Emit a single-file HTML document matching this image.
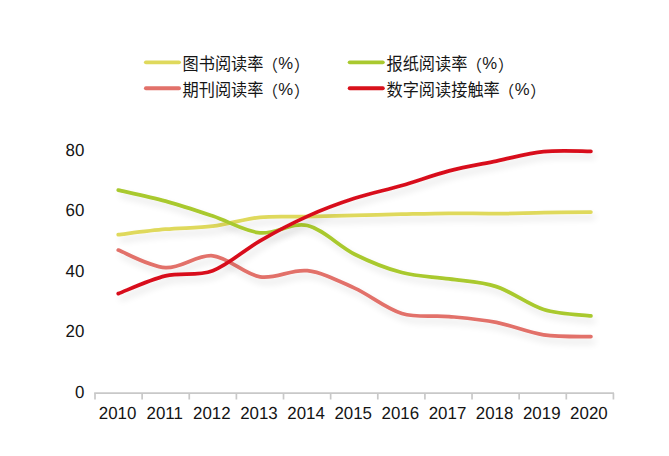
<!DOCTYPE html>
<html lang="zh"><head><meta charset="utf-8"><title>阅读率</title>
<style>
html,body{margin:0;padding:0;background:#fff;}
body{width:669px;height:456px;overflow:hidden;font-family:"Liberation Sans",sans-serif;}
svg{display:block;}
</style></head><body>
<svg width="669" height="456" viewBox="0 0 669 456">
<defs><filter id="sh" filterUnits="userSpaceOnUse" x="0" y="0" width="669" height="456">
<feGaussianBlur in="SourceAlpha" stdDeviation="3.6"/><feOffset dx="3" dy="5.2" result="b"/>
<feComponentTransfer><feFuncA type="linear" slope="0.115"/></feComponentTransfer>
<feMerge><feMergeNode/><feMergeNode in="SourceGraphic"/></feMerge></filter></defs>
<rect width="669" height="456" fill="#fff"/>
<g stroke="#c8c8c8" stroke-width="1.7" fill="none">
<path d="M94.15 393.20 H613.98"/>
<path d="M95.00 393.20 V399.50"/>
<path d="M142.13 393.20 V399.50"/>
<path d="M189.26 393.20 V399.50"/>
<path d="M236.39 393.20 V399.50"/>
<path d="M283.52 393.20 V399.50"/>
<path d="M330.65 393.20 V399.50"/>
<path d="M377.78 393.20 V399.50"/>
<path d="M424.91 393.20 V399.50"/>
<path d="M472.04 393.20 V399.50"/>
<path d="M519.17 393.20 V399.50"/>
<path d="M566.30 393.20 V399.50"/>
<path d="M613.43 393.20 V399.50"/>
</g>
<g font-family="'Liberation Sans', sans-serif" font-size="16.90" fill="#141414" text-rendering="geometricPrecision">
<text transform="translate(84.3 398.00) scale(1 1.03)" text-anchor="end">0</text>
<text transform="translate(84.3 337.00) scale(1 1.03)" text-anchor="end">20</text>
<text transform="translate(84.3 277.00) scale(1 1.03)" text-anchor="end">40</text>
<text transform="translate(84.3 216.00) scale(1 1.03)" text-anchor="end">60</text>
<text transform="translate(84.3 156.00) scale(1 1.03)" text-anchor="end">80</text>
<text transform="translate(117.56 419.0) scale(1 1.03)" text-anchor="middle">2010</text>
<text transform="translate(164.70 419.0) scale(1 1.03)" text-anchor="middle">2011</text>
<text transform="translate(211.83 419.0) scale(1 1.03)" text-anchor="middle">2012</text>
<text transform="translate(258.96 419.0) scale(1 1.03)" text-anchor="middle">2013</text>
<text transform="translate(306.09 419.0) scale(1 1.03)" text-anchor="middle">2014</text>
<text transform="translate(353.22 419.0) scale(1 1.03)" text-anchor="middle">2015</text>
<text transform="translate(400.35 419.0) scale(1 1.03)" text-anchor="middle">2016</text>
<text transform="translate(447.48 419.0) scale(1 1.03)" text-anchor="middle">2017</text>
<text transform="translate(494.61 419.0) scale(1 1.03)" text-anchor="middle">2018</text>
<text transform="translate(541.74 419.0) scale(1 1.03)" text-anchor="middle">2019</text>
<text transform="translate(588.87 419.0) scale(1 1.03)" text-anchor="middle">2020</text>
</g>
<g fill="none" stroke-width="3.75" stroke-linecap="round" stroke-linejoin="round">
<path stroke="#dfd95c" filter="url(#sh)" d="M118.26 234.69 C126.14 233.77 149.77 230.61 165.53 229.19 C181.28 227.76 197.04 228.12 212.79 226.14 C228.55 224.15 244.30 218.86 260.06 217.28 C275.81 215.70 291.57 216.97 307.32 216.67 C323.08 216.36 338.83 215.85 354.59 215.45 C370.34 215.04 386.10 214.58 401.85 214.22 C417.61 213.87 433.36 213.41 449.12 213.31 C464.87 213.21 480.63 213.72 496.38 213.61 C512.14 213.51 527.89 212.95 543.65 212.70 C559.40 212.44 583.04 212.19 590.91 212.09"/>
<path stroke="#a9c92f" filter="url(#sh)" d="M118.26 190.10 C126.14 191.93 149.77 196.77 165.53 201.09 C181.28 205.42 197.04 210.76 212.79 216.06 C228.55 221.35 244.30 231.28 260.06 232.85 C275.81 234.43 291.57 221.96 307.32 225.52 C323.08 229.09 338.83 246.39 354.59 254.23 C370.34 262.07 386.10 268.43 401.85 272.56 C417.61 276.68 433.36 276.63 449.12 278.97 C464.87 281.31 480.63 281.51 496.38 286.60 C512.14 291.69 527.89 304.62 543.65 309.51 C559.40 314.40 583.04 314.85 590.91 315.92"/>
<path stroke="#e2716a" filter="url(#sh)" d="M118.26 250.11 C126.14 253.04 149.77 266.73 165.53 267.67 C181.28 268.61 197.04 254.23 212.79 255.76 C228.55 257.29 244.30 274.34 260.06 276.83 C275.81 279.33 291.57 268.84 307.32 270.72 C323.08 272.61 338.83 281.01 354.59 288.13 C370.34 295.26 386.10 308.75 401.85 313.48 C417.61 318.21 433.36 315.06 449.12 316.53 C464.87 318.01 480.63 319.28 496.38 322.34 C512.14 325.39 527.89 332.47 543.65 334.86 C559.40 337.25 583.04 336.38 590.91 336.69"/>
<path stroke="#d8111b" filter="url(#sh)" d="M118.26 293.63 C126.14 290.68 149.77 279.73 165.53 275.92 C181.28 272.10 197.04 276.58 212.79 270.72 C228.55 264.87 244.30 249.85 260.06 240.79 C275.81 231.73 291.57 223.44 307.32 216.36 C323.08 209.29 338.83 203.48 354.59 198.34 C370.34 193.20 386.10 190.10 401.85 185.52 C417.61 180.94 433.36 174.93 449.12 170.86 C464.87 166.79 480.63 164.29 496.38 161.09 C512.14 157.88 527.89 153.25 543.65 151.62 C559.40 149.99 583.04 151.36 590.91 151.31"/>
</g>
<path d="M145.90 62.35 h33.1" stroke="#dfd95c" stroke-width="3.90" stroke-linecap="round" fill="none"/>
<g fill="#161616" font-family="'Liberation Sans', 'Noto Sans CJK SC', sans-serif">
<text transform="translate(182.51 70.00) scale(1 1.048)" font-size="16.2">图书阅读率</text>
<text transform="translate(262.26 70.62) scale(1 1.027)" font-size="15.69">（</text>
<text transform="translate(293.99 70.62) scale(1 1.027)" font-size="15.69">）</text>
</g>
<text transform="translate(278.28 68.75) scale(1 1.04)" font-family="'Liberation Sans', sans-serif" font-size="16.70" fill="#161616">%</text>
<path d="M349.70 62.35 h33.1" stroke="#a9c92f" stroke-width="3.90" stroke-linecap="round" fill="none"/>
<g fill="#161616" font-family="'Liberation Sans', 'Noto Sans CJK SC', sans-serif">
<text transform="translate(386.46 70.00) scale(1 1.048)" font-size="16.2">报纸阅读率</text>
<text transform="translate(466.21 70.62) scale(1 1.027)" font-size="15.69">（</text>
<text transform="translate(497.94 70.62) scale(1 1.027)" font-size="15.69">）</text>
</g>
<text transform="translate(482.23 68.75) scale(1 1.04)" font-family="'Liberation Sans', sans-serif" font-size="16.70" fill="#161616">%</text>
<path d="M145.90 88.30 h33.1" stroke="#e2716a" stroke-width="3.90" stroke-linecap="round" fill="none"/>
<g fill="#161616" font-family="'Liberation Sans', 'Noto Sans CJK SC', sans-serif">
<text transform="translate(182.51 95.95) scale(1 1.048)" font-size="16.2">期刊阅读率</text>
<text transform="translate(262.26 96.57) scale(1 1.027)" font-size="15.69">（</text>
<text transform="translate(293.99 96.57) scale(1 1.027)" font-size="15.69">）</text>
</g>
<text transform="translate(278.28 94.70) scale(1 1.04)" font-family="'Liberation Sans', sans-serif" font-size="16.70" fill="#161616">%</text>
<path d="M349.70 88.30 h33.1" stroke="#d8111b" stroke-width="3.90" stroke-linecap="round" fill="none"/>
<g fill="#161616" font-family="'Liberation Sans', 'Noto Sans CJK SC', sans-serif">
<text transform="translate(386.46 95.95) scale(1 1.048)" font-size="16.2">数字阅读接触率</text>
<text transform="translate(498.61 96.57) scale(1 1.027)" font-size="15.69">（</text>
<text transform="translate(530.34 96.57) scale(1 1.027)" font-size="15.69">）</text>
</g>
<text transform="translate(514.63 94.70) scale(1 1.04)" font-family="'Liberation Sans', sans-serif" font-size="16.70" fill="#161616">%</text>
</svg>
</body></html>
